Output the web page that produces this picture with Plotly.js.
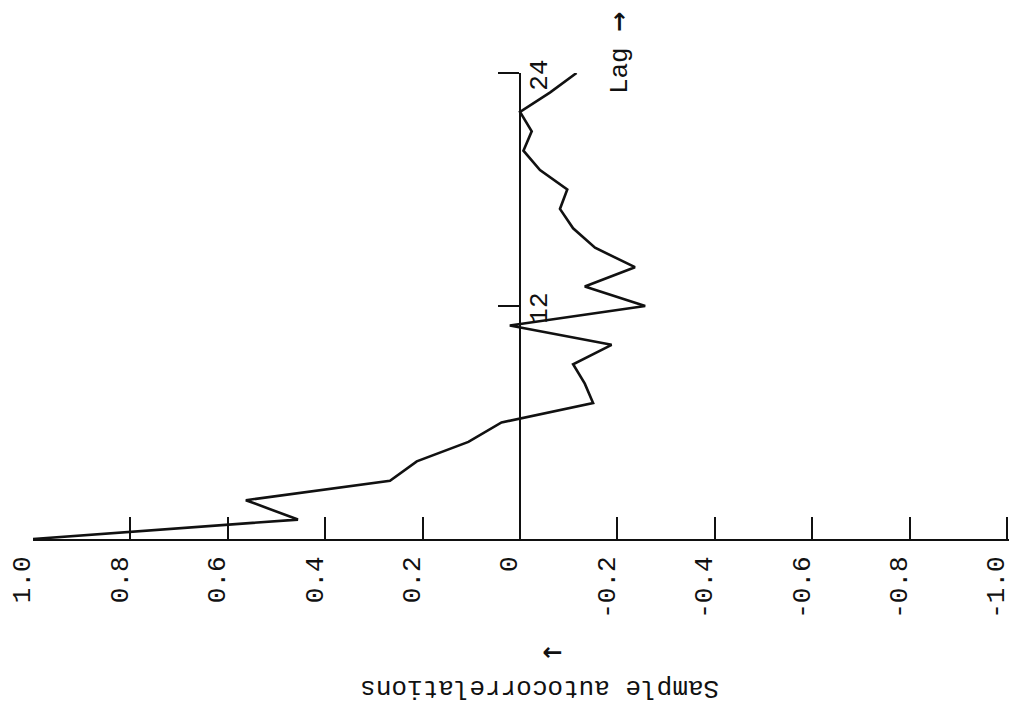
<!DOCTYPE html>
<html>
<head>
<meta charset="utf-8">
<script src="https://cdn.plot.ly/plotly-3.0.1.min.js"></script>
<style>
  html, body { margin: 0; padding: 0; background: #ffffff; }
  #chart { width: 1017px; height: 708px; }
</style>
</head>
<body>
<div id="chart"></div>
<script>
// Sample autocorrelation function, lags 0 to 24
const lags = [0, 1, 2, 3, 4, 5, 6, 7, 8, 9, 10, 11, 12,
              13, 14, 15, 16, 17, 18, 19, 20, 21, 22, 23, 24];
const acf = [1.0, 0.456, 0.563, 0.267, 0.212, 0.106, 0.038, -0.15, -0.133, -0.109, -0.188, 0.021, -0.257,
             -0.133, -0.236, -0.154, -0.109, -0.082, -0.097, -0.041, -0.007, -0.024, 0.0, -0.062, -0.116];

// Correlation axis ticks
const corrTicks = [1.0, 0.8, 0.6, 0.4, 0.2, 0, -0.2, -0.4, -0.6, -0.8, -1.0];
const corrTickText = ["1.0", "0.8", "0.6", "0.4", "0.2", "0", "-0.2", "-0.4", "-0.6", "-0.8", "-1.0"];

// Lag axis ticks
const lagTicks = [12, 24];
const lagTickText = ["12", "24"];

const FONT = "Liberation Mono, DejaVu Sans Mono, monospace";
const INK = "#111111";

const trace = {
  type: "scatter",
  mode: "lines",
  x: acf,
  y: lags,
  line: { color: INK, width: 2.6 },
  cliponaxis: false,
  hoverinfo: "skip"
};

// invisible companion trace so the label-only lag axis is laid out
const labelTrace = {
  type: "scatter",
  mode: "lines",
  x: [0, 0],
  y: [0, 24],
  yaxis: "y2",
  line: { color: "rgba(0,0,0,0)", width: 0 },
  hoverinfo: "skip"
};

const layout = {
  width: 1017,
  height: 708,
  margin: { l: 33, r: 8, t: 73, b: 169, pad: 0 },
  paper_bgcolor: "#ffffff",
  plot_bgcolor: "#ffffff",
  showlegend: false,
  font: { family: FONT, size: 26, color: INK },
  xaxis: {
    range: [1.0, -1.004],
    tickmode: "array",
    tickvals: corrTicks,
    ticktext: corrTickText,
    tickangle: -90,
    ticks: "inside",
    ticklen: 22,
    tickwidth: 2,
    tickcolor: INK,
    ticklabelshift: 11,
    ticklabelstandoff: 5,
    showline: true,
    linewidth: 2,
    linecolor: INK,
    mirror: false,
    showgrid: false,
    zeroline: false,
    tickfont: { family: FONT, size: 26, color: INK },
    fixedrange: true
  },
  // lag axis drawn along r = 0 with ticks pointing left
  yaxis: {
    range: [0, 24],
    anchor: "free",
    position: 1.0 / 2.004,
    side: "left",
    tickmode: "array",
    tickvals: lagTicks,
    ticktext: lagTickText,
    ticks: "outside",
    ticklen: 21,
    tickwidth: 2,
    tickcolor: INK,
    showticklabels: false,
    showline: true,
    linewidth: 2,
    linecolor: INK,
    showgrid: false,
    zeroline: false,
    fixedrange: true
  },
  // lag tick labels on the right of the r = 0 line
  yaxis2: {
    range: [0, 24],
    overlaying: "y",
    anchor: "free",
    position: 1.0 / 2.004,
    side: "right",
    tickmode: "array",
    tickvals: lagTicks,
    ticktext: lagTickText,
    tickangle: -90,
    ticks: "",
    ticklabelshift: 6,
    showline: false,
    showgrid: false,
    zeroline: false,
    tickfont: { family: FONT, size: 26, color: INK },
    fixedrange: true
  },
  annotations: [
    {
      xref: "paper", yref: "paper",
      x: 0.519, y: -0.3197,
      xanchor: "center", yanchor: "middle",
      text: "Sample autocorrelations",
      textangle: 180,
      showarrow: false,
      font: { family: FONT, size: 26, color: INK }
    },
    {
      xref: "paper", yref: "paper",
      x: 0.532, y: -0.2446,
      xanchor: "center", yanchor: "middle",
      text: "<b>→</b>",
      textangle: 180,
      showarrow: false,
      font: { family: "DejaVu Sans, sans-serif", size: 24, color: INK }
    },
    {
      xref: "paper", yref: "paper",
      x: 0.6016, y: 1.043,
      xanchor: "center", yanchor: "middle",
      text: "Lag <span style=\"font-family:'DejaVu Sans';font-weight:bold;font-size:24px\">→</span>",
      textangle: -90,
      showarrow: false,
      font: { family: FONT, size: 26, color: INK }
    }
  ]
};

Plotly.newPlot("chart", [trace, labelTrace], layout, { staticPlot: true, displayModeBar: false });
</script>
</body>
</html>
